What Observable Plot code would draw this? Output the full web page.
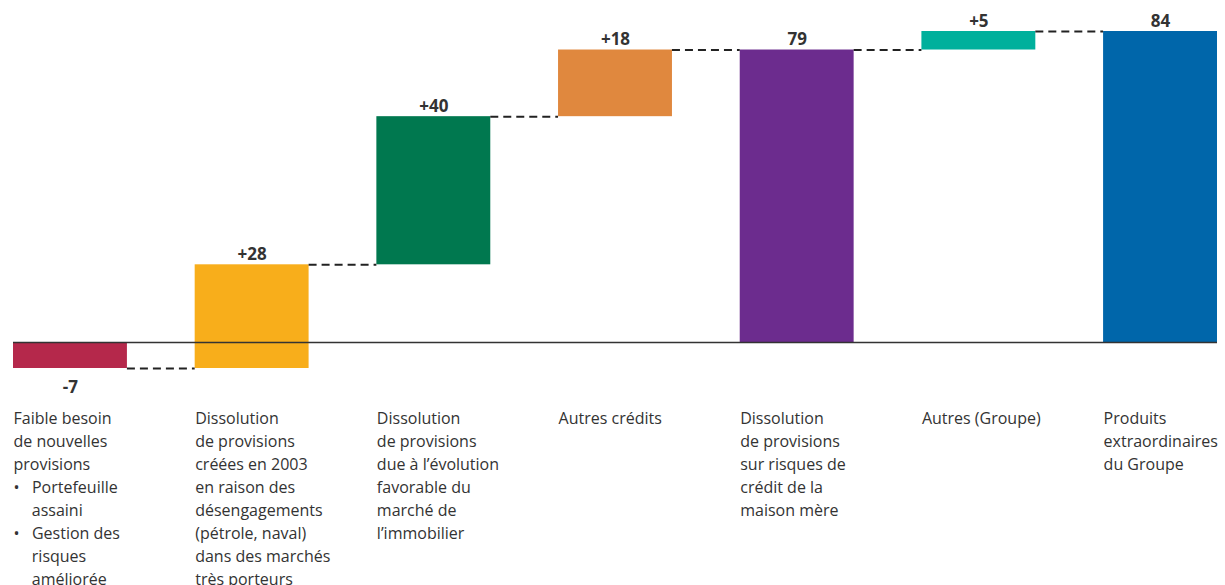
<!DOCTYPE html>
<html>
<head>
<meta charset="utf-8">
<script src="https://cdn.jsdelivr.net/npm/d3@7"></script>
<script src="https://cdn.jsdelivr.net/npm/@observablehq/plot@0.6"></script>
<style>
  html, body { margin: 0; padding: 0; background: #fff; }
  #chart svg { display: block; }
</style>
</head>
<body>
<div id="chart"></div>
<script>
// ---- Data ----
const categories = ["besoin", "dissolution2003", "immobilier", "autres", "maison", "groupe", "produits"];
const values = [-7, 28, 40, 18, 79, 5, 84];
const kinds = ["delta", "delta", "delta", "delta", "total", "delta", "total"];
const valueLabels = ["-7", "+28", "+40", "+18", "79", "+5", "84"];
const categoryLabels = [
  "Faible besoin\nde nouvelles\nprovisions\n\u2022\u00a0\u00a0\u00a0Portefeuille\n\u2007\u2007assaini\n\u2022\u00a0\u00a0\u00a0Gestion des\n\u2007\u2007risques\n\u2007\u2007améliorée",
  "Dissolution\nde provisions\ncréées en 2003\nen raison des\ndésengagements\n(pétrole, naval)\ndans des marchés\ntrès porteurs",
  "Dissolution\nde provisions\ndue à l\u2019évolution\nfavorable du\nmarché de\nl\u2019immobilier",
  "Autres crédits",
  "Dissolution\nde provisions\nsur risques de\ncrédit de la\nmaison mère",
  "Autres (Groupe)",
  "Produits\nextraordinaires\ndu Groupe"
];
const barColors = ["#B5284B", "#F8AE1B", "#00784F", "#E0883E", "#6C2C8E", "#00B09C", "#0066AA"];

// ---- Waterfall table ----
let cum = 0;
const rows = categories.map((c, i) => {
  let start, end;
  if (kinds[i] === "total") { start = 0; end = values[i]; cum = values[i]; }
  else { start = cum; end = cum + values[i]; cum = end; }
  return {category: c, start, end, value: values[i], label: valueLabels[i], text: categoryLabels[i]};
});
const connectors = rows.slice(0, -1).map((r, i) => ({from: r.category, to: rows[i + 1].category, level: r.end}));
const yMin = d3.min(rows, r => Math.min(r.start, r.end));
const yMax = d3.max(rows, r => Math.max(r.start, r.end));

const W = 1225, H = 585, ML = 13, MR = 8, PAD = 0.373;
const bw = (W - ML - MR) / (categories.length - PAD) * (1 - PAD);

const chart = Plot.plot({
  width: W,
  height: H,
  marginLeft: ML,
  marginRight: MR,
  marginTop: 31,
  marginBottom: 217,
  style: {fontFamily: "'Open Sans', sans-serif", background: "#fff", color: "#333"},
  x: {domain: categories, paddingInner: PAD, paddingOuter: 0, round: false, axis: null},
  y: {domain: [yMin, yMax], axis: null},
  color: {domain: categories, range: barColors},
  marks: [
    Plot.barY(rows, {x: "category", y1: "start", y2: "end", fill: "category"}),
    Plot.ruleY([0], {stroke: "#333", strokeWidth: 1.5}),
    Plot.ruleY(connectors, {
      y: "level", x1: "from", x2: "to",
      insetLeft: bw, insetRight: bw,
      stroke: "#222", strokeWidth: 2, strokeDasharray: "8,5"
    }),
    Plot.text(rows.filter(r => r.end >= r.start), {
      x: "category", y: "end", text: "label",
      lineAnchor: "bottom", dy: -5, fontSize: 17, fontWeight: "bold", fill: "#333"
    }),
    Plot.text(rows.filter(r => r.end < r.start), {
      x: "category", y: "end", text: "label",
      lineAnchor: "top", dy: 12, fontSize: 17, fontWeight: "bold", fill: "#333"
    }),
    Plot.text(rows, {
      x: "category", y: () => yMin, text: "text",
      textAnchor: "start", lineAnchor: "top", dx: -bw / 2, dy: 39,
      fontSize: 16, lineHeight: 1.44, fill: "#333"
    })
  ]
});
document.getElementById("chart").append(chart);
</script>
</body>
</html>
